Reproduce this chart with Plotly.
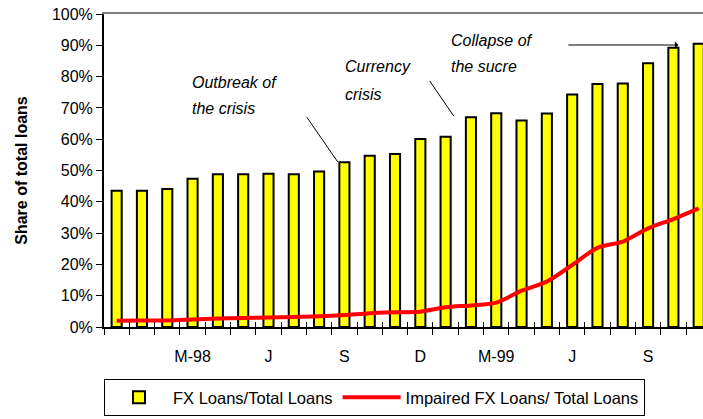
import plotly.graph_objects as go

months = ["D-97", "J-98", "F-98", "M-98", "A-98", "My-98", "J-98b", "Jl-98", "Au-98", "S-98", "O-98", "N-98",
          "D-98", "J-99", "F-99", "M-99", "A-99", "My-99", "J-99b", "Jl-99", "Au-99", "S-99", "O-99", "N-99"]
tick_labels = ["", "", "", "M-98", "", "", "J", "", "", "S", "", "",
               "D", "", "", "M-99", "", "", "J", "", "", "S", "", ""]
fx_share = [43.5, 43.5, 44.1, 47.4, 48.8, 48.8, 49.0, 48.8, 49.7, 52.6, 54.7, 55.3,
            60.1, 60.8, 67.0, 68.3, 66.0, 68.2, 74.3, 77.6, 77.8, 84.3, 89.2, 90.5]
impaired_share = [2.0, 2.1, 2.1, 2.4, 2.7, 2.9, 3.0, 3.2, 3.4, 3.8, 4.4, 4.7,
                  4.9, 6.3, 6.9, 7.8, 11.6, 14.5, 19.8, 25.3, 27.3, 31.5, 34.5, 37.9]

FONT = "Liberation Sans, Arial, sans-serif"
X_RANGE = [-0.5, 23.17]

fig = go.Figure()
fig.add_trace(go.Bar(x=months, y=fx_share, name="FX Loans/Total Loans",
                     marker=dict(color="#FFFF00", line=dict(color="black", width=2))))
fig.add_trace(go.Scatter(x=months, y=impaired_share, name="Impaired FX Loans/ Total Loans", mode="lines",
                         line=dict(color="#FF0000", width=4, shape="spline", smoothing=0.8)))
# helper traces so the overlay axes (top border + crossing ticks) get drawn
fig.add_trace(go.Scatter(x=months, y=[None] * len(months), xaxis="x2", showlegend=False, hoverinfo="skip"))
fig.add_trace(go.Scatter(x=months, y=[None] * len(months), xaxis="x3", showlegend=False, hoverinfo="skip"))

# annotation texts (one line each, Excel-like line spacing)
notes = [
    ("Outbreak of", 2.9, 78.0), ("the crisis", 2.9, 69.7),
    ("Currency", 8.95, 83.1), ("crisis", 8.95, 74.4),
    ("Collapse of", 13.15, 91.4), ("the sucre", 13.15, 83.1),
]
for txt, xi, yi in notes:
    fig.add_annotation(x=xi, y=yi, text=txt, showarrow=False, xanchor="left", yanchor="middle",
                       font=dict(family=FONT, size=16, color="black", style="italic"))

# pointer lines
fig.add_shape(type="line", x0=7.51, y0=67.1, x1=8.74, y1=52.7, line=dict(color="black", width=1))
fig.add_shape(type="line", x0=12.37, y0=78.6, x1=13.32, y1=67.4, line=dict(color="black", width=1))
fig.add_annotation(x=22.2, y=90.1, ax=17.79, ay=90.1, axref="x", ayref="y", text="",
                   showarrow=True, arrowhead=1, arrowsize=1.2, arrowwidth=1, arrowcolor="black")

fig.update_layout(
    width=703, height=419,
    margin=dict(l=104, r=0, t=14, b=92),
    plot_bgcolor="white", paper_bgcolor="white",
    font=dict(family=FONT, size=16, color="black"),
    bargap=0.6,
    xaxis=dict(type="category", range=X_RANGE, tickmode="array", tickvals=months, ticktext=tick_labels,
               tickson="boundaries", ticks="outside", ticklen=6, tickwidth=1, tickcolor="black",
               showline=True, linecolor="black", linewidth=2, showgrid=False, ticklabelstandoff=14,
               tickangle=0, automargin=False, tickfont=dict(size=16)),
    xaxis2=dict(type="category", overlaying="x", side="top", anchor="y", range=X_RANGE,
                showline=True, linecolor="#808080", linewidth=2, ticks="", showticklabels=False,
                showgrid=False, automargin=False),
    xaxis3=dict(type="category", overlaying="x", side="bottom", anchor="y", range=X_RANGE,
                tickmode="array", tickvals=months, tickson="boundaries", ticks="inside", ticklen=5,
                tickwidth=1, tickcolor="black", showticklabels=False, showline=False, showgrid=False,
                automargin=False),
    yaxis=dict(range=[0, 100], dtick=10, ticksuffix="%", ticks="outside", ticklen=6, tickcolor="black",
               showline=True, linecolor="black", linewidth=2, showgrid=False, zeroline=False,
               automargin=False, ticklabeloverflow="allow", tickfont=dict(size=16),
               title=dict(text="<b>Share of total loans</b>", font=dict(size=16), standoff=20)),
    legend=dict(orientation="h", x=0, xanchor="left", y=-0.166, yanchor="top",
                bgcolor="white", bordercolor="black", borderwidth=1,
                font=dict(size=16.5), itemwidth=58),
    showlegend=True,
)

# drop the default 8px page margin so the figure fills the window exactly
fig.write_html("out.html", config={"displayModeBar": False},
               post_script="document.body.style.margin='0';")
